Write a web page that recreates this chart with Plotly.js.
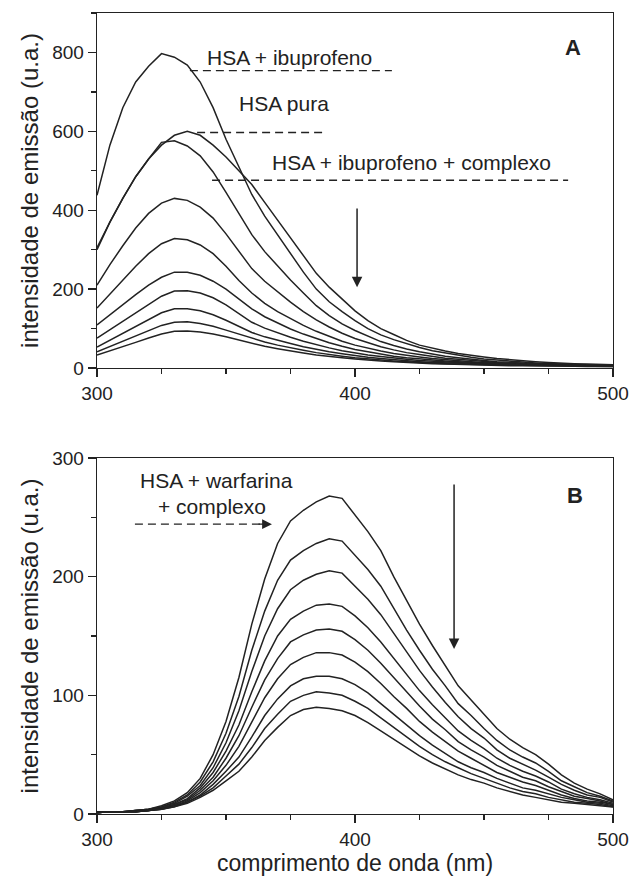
<!DOCTYPE html>
<html>
<head>
<meta charset="utf-8">
<script src="https://cdn.plot.ly/plotly-3.0.1.min.js"></script>
<style>html,body{margin:0;padding:0;background:#fff;}#chart{width:629px;height:879px;}</style>
</head>
<body>
<div id="chart"></div>
<script>
// wavelength (nm)
const wavelength = [300,305,310,315,320,325,330,335,340,345,350,355,360,365,370,375,380,385,390,395,400,405,410,415,420,425,430,435,440,445,450,455,460,465,470,475,480,485,490,495,500];

// Panel A: emission intensity (u.a.)
const aIbuprofeno = [438,565,660,725,765,797,788,768,725,660,580,510,440,385,338,290,243,200,168,143,120,100,84,72,61,52,44,38,32,27,23,20,17,15,13,11,10,9,8,7,6];
const aHsaPura    = [300,370,430,485,530,565,590,600,590,565,535,500,465,420,375,330,285,240,205,175,145,120,100,85,70,58,50,43,37,32,28,24,21,18,16,14,12,11,10,9,8];
const aComplexo1  = [305,370,430,485,530,572,576,563,538,497,445,390,338,295,258,223,190,158,133,112,95,80,67,57,48,41,35,30,26,22,19,16,14,12,11,10,9,8,7,6,6];
const aComplexo2  = [210,262,310,355,392,418,430,425,408,380,340,296,252,220,193,167,143,122,104,88,75,64,54,46,39,34,29,25,22,19,16,14,12,11,10,9,8,7,7,6,6];
const aComplexo3  = [152,188,222,258,290,315,328,325,312,290,258,222,190,164,143,125,108,93,80,68,58,50,43,37,32,28,24,21,18,16,14,12,11,10,9,8,7,7,6,6,5];
const aComplexo4  = [109,135,160,186,210,230,243,243,235,220,200,175,150,130,114,99,86,74,64,55,47,41,35,30,26,23,20,18,16,14,12,11,10,9,8,8,7,7,6,6,5];
const aComplexo5  = [76,97,118,140,162,182,195,196,190,178,160,138,116,101,89,78,68,59,51,44,38,33,29,25,22,19,17,15,13,12,11,10,9,8,8,7,7,6,6,5,5];
const aComplexo6  = [53,70,87,105,123,140,150,150,145,135,121,106,90,79,70,62,54,47,41,36,31,27,24,21,18,16,14,13,12,11,10,9,8,8,7,7,6,6,5,5,5];
const aComplexo7  = [41,54,67,81,95,108,116,117,113,106,96,86,75,66,58,51,45,39,34,30,26,23,20,18,16,14,12,11,10,9,8,8,7,7,6,6,5,5,5,4,4];
const aComplexo8  = [33,43,54,65,76,86,93,94,91,86,79,71,62,55,49,43,38,33,29,26,23,20,18,16,14,12,11,10,9,8,7,7,6,6,5,5,5,4,4,4,4];

// Panel B: emission intensity (u.a.)
const bSerie1 = [2,2,2,3,4,7,11,18,30,50,78,115,160,198,228,247,256,263,268,266,252,238,222,200,180,160,142,125,108,96,84,72,63,56,50,42,33,26,21,17,12];
const bSerie2 = [2,2,2,3,4,6,10,16,27,44,68,99,138,171,197,214,222,228,232,230,218,206,192,173,155,138,122,108,93,83,72,62,54,48,43,36,28,23,18,15,11];
const bSerie3 = [2,2,2,3,4,6,9,15,24,39,60,87,120,150,173,189,197,202,205,203,192,181,168,152,136,121,107,94,82,72,64,54,47,42,37,31,25,20,16,14,10];
const bSerie4 = [1,2,2,3,3,5,8,13,22,35,53,75,103,129,150,164,171,176,177,175,167,157,145,131,117,104,92,81,70,62,55,47,41,36,32,27,21,17,14,12,9];
const bSerie5 = [1,2,2,2,3,5,8,12,20,31,47,66,90,113,131,145,151,155,156,154,147,138,127,115,103,91,80,71,61,54,48,41,36,31,28,23,19,15,13,11,8];
const bSerie6 = [1,2,2,2,3,5,7,11,18,28,41,57,78,98,114,126,132,136,136,134,128,120,110,99,89,78,69,61,53,47,41,35,31,27,24,20,16,13,11,10,8];
const bSerie7 = [1,2,2,2,3,4,7,10,16,25,36,48,65,83,97,108,114,116,116,114,109,102,93,84,75,66,58,51,44,39,35,30,26,22,20,17,14,12,10,9,7];
const bSerie8 = [1,2,2,2,3,4,6,10,15,22,32,42,56,72,84,95,100,103,102,100,95,89,81,73,65,57,50,44,39,34,30,26,22,19,17,14,12,10,9,8,6];
const bSerie9 = [1,2,2,2,3,4,6,9,14,20,28,36,48,62,73,83,88,90,89,87,83,77,70,63,56,49,43,38,33,29,26,22,19,16,14,12,10,9,8,7,6];

const xTickVals = [300,400,500];
const yTickValsA = [0,200,400,600,800];
const yTickValsB = [0,100,200,300];

const ink = '#222';
const seriesA = [aIbuprofeno,aHsaPura,aComplexo1,aComplexo2,aComplexo3,aComplexo4,aComplexo5,aComplexo6,aComplexo7,aComplexo8];
const seriesB = [bSerie1,bSerie2,bSerie3,bSerie4,bSerie5,bSerie6,bSerie7,bSerie8,bSerie9];

const traces = [];
seriesA.forEach(s => traces.push({x: wavelength, y: s, xaxis:'x', yaxis:'y', type:'scatter', mode:'lines', line:{color:ink, width:1.5}, hoverinfo:'skip'}));
seriesB.forEach(s => traces.push({x: wavelength, y: s, xaxis:'x2', yaxis:'y2', type:'scatter', mode:'lines', line:{color:ink, width:1.5}, hoverinfo:'skip'}));

const axisCommon = {
  showline:true, mirror:true, linecolor:ink, linewidth:1.3,
  ticks:'outside', ticklen:8, tickwidth:1.3, tickcolor:ink,
  showgrid:false, zeroline:false, tickfont:{size:19, color:ink}
};
const fam = 'Liberation Sans, Arial, Helvetica, sans-serif';

const layout = {
  width:629, height:879,
  margin:{l:97, r:16, t:13, b:65},
  paper_bgcolor:'#fff', plot_bgcolor:'#fff',
  showlegend:false,
  font:{family:fam, color:ink, size:19},
  xaxis: Object.assign({}, axisCommon, {domain:[0,1], anchor:'y', range:[300,500], tickvals:xTickVals,
    minor:{dtick:25, tick0:300, ticks:'outside', ticklen:5, tickwidth:1.3, tickcolor:ink, showgrid:false}}),
  yaxis: Object.assign({}, axisCommon, {domain:[0.5568,1], anchor:'x', range:[0,900], tickvals:yTickValsA,
    minor:{dtick:100, tick0:0, ticks:'outside', ticklen:5, tickwidth:1.3, tickcolor:ink, showgrid:false},
    title:{text:'intensidade de emissão (u.a.)', font:{size:24, color:ink}, standoff:6}}),
  xaxis2: Object.assign({}, axisCommon, {domain:[0,1], anchor:'y2', range:[300,500], tickvals:xTickVals,
    minor:{dtick:25, tick0:300, ticks:'outside', ticklen:5, tickwidth:1.3, tickcolor:ink, showgrid:false},
    title:{text:'comprimento de onda (nm)', font:{size:23, color:ink}, standoff:2}}),
  yaxis2: Object.assign({}, axisCommon, {domain:[0,0.4444], anchor:'x2', range:[0,300], tickvals:yTickValsB,
    minor:{dtick:50, tick0:0, ticks:'outside', ticklen:5, tickwidth:1.3, tickcolor:ink, showgrid:false},
    title:{text:'intensidade de emissão (u.a.)', font:{size:24, color:ink}, standoff:6}}),
  shapes:[
    {type:'line', xref:'x', yref:'y', x0:336, x1:414.3, y0:754, y1:754, line:{color:ink, width:1.3, dash:'8px,5px'}},
    {type:'line', xref:'x', yref:'y', x0:338.8, x1:389.1, y0:597, y1:597, line:{color:ink, width:1.3, dash:'8px,5px'}},
    {type:'line', xref:'x', yref:'y', x0:344.6, x1:482.6, y0:476, y1:476, line:{color:ink, width:1.3, dash:'8px,5px'}},
    {type:'line', xref:'x2', yref:'y2', x0:314.7, x1:364, y0:244.3, y1:244.3, line:{color:ink, width:1.3, dash:'8px,5px'}}
  ],
  annotations:[
    {xref:'x', yref:'y', x:374.8, y:787, text:'HSA + ibuprofeno', showarrow:false, font:{size:21, color:ink}},
    {xref:'x', yref:'y', x:372.5, y:671, text:'HSA pura', showarrow:false, font:{size:21, color:ink}},
    {xref:'x', yref:'y', x:422, y:521, text:'HSA + ibuprofeno + complexo', showarrow:false, font:{size:21, color:ink}},
    {xref:'x', yref:'y', x:484.5, y:813, text:'<b>A</b>', showarrow:false, font:{size:22, color:ink}},
    {xref:'x', yref:'y', x:400.8, y:205, axref:'x', ayref:'y', ax:400.8, ay:408, text:'', showarrow:true, arrowhead:2, arrowsize:1.4, arrowwidth:1.5, arrowcolor:ink},
    {xref:'x2', yref:'y2', x:346.3, y:281.4, text:'HSA + warfarina', showarrow:false, font:{size:21, color:ink}},
    {xref:'x2', yref:'y2', x:344.6, y:259.5, text:'+ complexo', showarrow:false, font:{size:21, color:ink}},
    {xref:'x2', yref:'y2', x:367.8, y:244.3, axref:'x2', ayref:'y2', ax:362, ay:244.3, text:'', showarrow:true, arrowhead:2, arrowsize:1.4, arrowwidth:1.4, arrowcolor:ink},
    {xref:'x2', yref:'y2', x:438.4, y:139, axref:'x2', ayref:'y2', ax:438.4, ay:279, text:'', showarrow:true, arrowhead:2, arrowsize:1.4, arrowwidth:1.5, arrowcolor:ink},
    {xref:'x2', yref:'y2', x:485.3, y:268.7, text:'<b>B</b>', showarrow:false, font:{size:22, color:ink}}
  ]
};

Plotly.newPlot('chart', traces, layout, {staticPlot:true, displayModeBar:false});
</script>
</body>
</html>
